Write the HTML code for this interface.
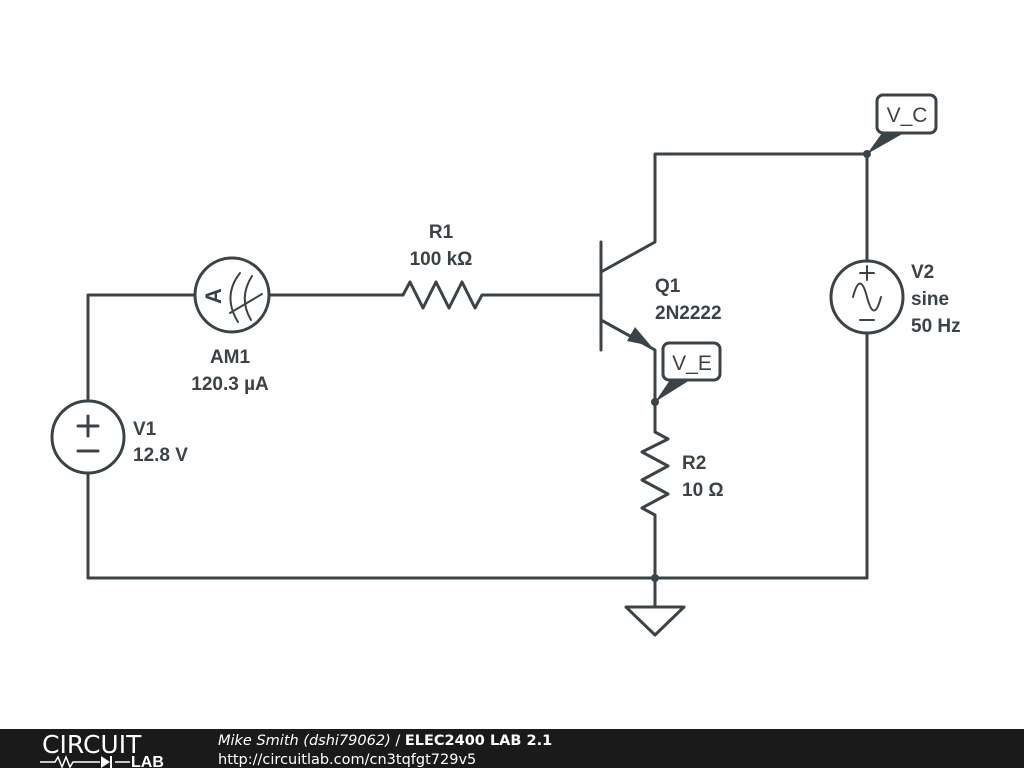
<!DOCTYPE html>
<html><head><style>
body{margin:0;width:1024px;height:768px;background:#fff;overflow:hidden;font-family:"Liberation Sans",sans-serif}
</style></head><body>
<svg width="1024" height="768" viewBox="0 0 1024 768" style="position:absolute;left:0;top:0">
<g stroke="#3b4347" stroke-width="3" fill="none" stroke-linecap="round" stroke-linejoin="round">
<polyline points="88,401 88,295 195,295"/>
<polyline points="88,473 88,578 867,578"/>
<line x1="269" y1="295" x2="403" y2="295"/>
<polyline points="403,295 410,282 423,308 436,282 449,308 462,282 475,308 482,295 601,295"/>
<line x1="601" y1="242" x2="601" y2="350"/>
<polyline points="601,272 655,242 655,154 867,154"/>
<polyline points="601,320 648,346 655,350 655,432"/>
<polyline points="655,432 668,439 642,452 668,466 642,480 668,494 642,508 655,515 655,578"/>
<line x1="867" y1="154" x2="867" y2="261"/>
<line x1="867" y1="333" x2="867" y2="578"/>
<line x1="655" y1="578" x2="655" y2="607"/>
<polygon points="626,607 684,607 655,635"/>
<circle cx="88" cy="437" r="36"/>
<line x1="78" y1="426" x2="98" y2="426"/><line x1="88" y1="416" x2="88" y2="436"/>
<line x1="78" y1="451" x2="98" y2="451"/>
<circle cx="232" cy="295" r="37"/>
<path d="M240 273 Q222 296 238 322" stroke-width="2"/>
<path d="M252 276 Q238 298 251 320" stroke-width="2"/>
<line x1="230" y1="313" x2="262" y2="294" stroke-width="2"/>
<circle cx="867" cy="297" r="36"/>
<line x1="860" y1="273" x2="874" y2="273" stroke-width="2"/><line x1="867" y1="266" x2="867" y2="280" stroke-width="2"/>
<line x1="860" y1="320" x2="874" y2="320" stroke-width="2"/>
<path d="M853 297 Q860 270 867 297 Q874 324 881 297" stroke-width="2"/>
<rect x="877" y="95" width="59" height="38" rx="6" fill="#fff"/>
<rect x="663" y="343" width="57" height="37" rx="6" fill="#fff"/>
</g>
<g fill="#3b4347">
<polygon points="651,346 627,341 635,327"/>
<circle cx="867" cy="154" r="4"/><circle cx="655" cy="402" r="4"/><circle cx="655" cy="578" r="4"/>
<polygon points="867,154 882,133 904,133"/>
<polygon points="655,402 670,380 690,380"/>
</g>
<g font-family="Liberation Sans,sans-serif" font-weight="bold" font-size="19" fill="#3b4347">
<text x="441" y="238" text-anchor="middle">R1</text>
<text x="441" y="265" text-anchor="middle">100 kΩ</text>
<text x="230" y="363" text-anchor="middle">AM1</text>
<text x="230" y="390" text-anchor="middle">120.3 µA</text>
<text x="133" y="435">V1</text><text x="133" y="461">12.8 V</text>
<text x="655" y="292">Q1</text><text x="655" y="319">2N2222</text>
<text x="682" y="469">R2</text><text x="682" y="496">10 Ω</text>
<text x="911" y="278">V2</text><text x="911" y="305">sine</text><text x="911" y="332">50 Hz</text>
<text x="907" y="122" text-anchor="middle" font-weight="normal" font-size="21">V_C</text>
<text x="692" y="370" text-anchor="middle" font-weight="normal" font-size="21">V_E</text>
<text x="0" y="0" transform="translate(221 296) rotate(-90)" text-anchor="middle" font-size="22">A</text>
</g>
<rect x="0" y="729" width="1024" height="39" fill="#1a1a1a"/>
<text x="42" y="753" font-size="25" fill="#fff" font-family="DejaVu Sans,sans-serif" font-weight="normal" letter-spacing="0">CIRCUIT</text>
<g stroke="#fff" stroke-width="1.5" fill="none"><polyline points="40,762 55,762 58,757 62,767 66,757 70,767 73,762 100,762"/><line x1="115" y1="762" x2="130" y2="762"/></g>
<polygon points="101,756 101,768 110,762" fill="#fff"/><line x1="111" y1="756" x2="111" y2="768" stroke="#fff" stroke-width="2"/>
<text x="131" y="767" font-size="16" font-weight="bold" fill="#fff" font-family="Liberation Sans,sans-serif">LAB</text>
<text x="218" y="745" font-size="14.5" fill="#fff" font-family="DejaVu Sans,sans-serif"><tspan font-style="italic">Mike Smith (dshi79062)</tspan> / <tspan font-weight="bold">ELEC2400 LAB 2.1</tspan></text>
<text x="218" y="764" font-size="14.5" fill="#fff" font-family="DejaVu Sans,sans-serif">http://circuitlab.com/cn3tqfgt729v5</text>
</svg>
</body></html>
